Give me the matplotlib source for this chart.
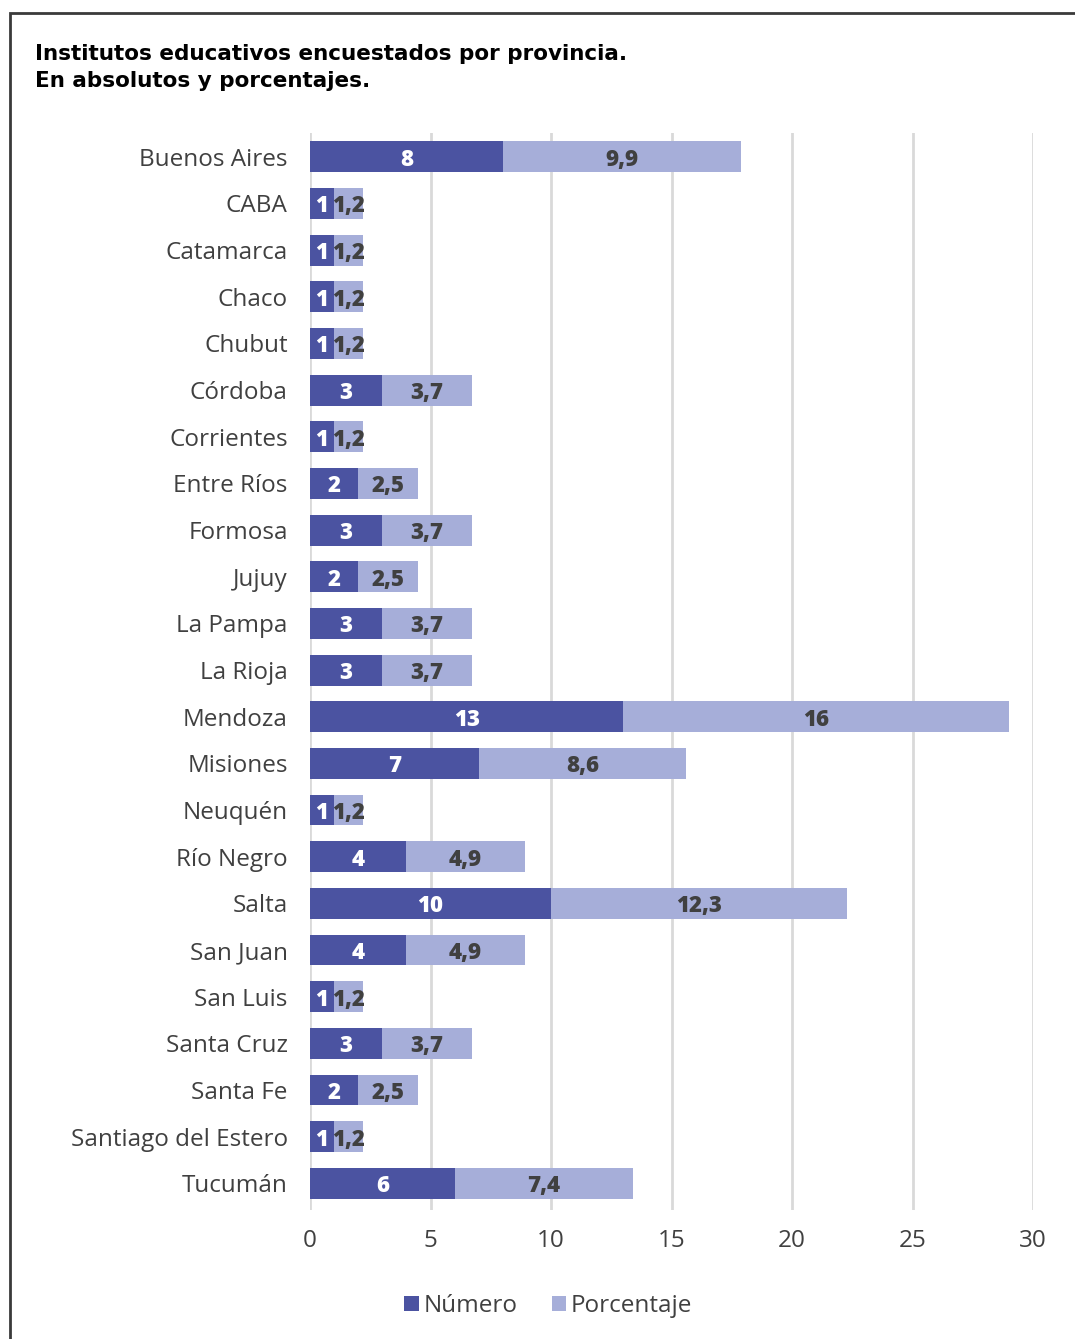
import matplotlib.pyplot as plt
from matplotlib.patches import Rectangle

# Provinces and values (absolute count and percentage)
provincias = ['Buenos Aires', 'CABA', 'Catamarca', 'Chaco', 'Chubut', 'Córdoba',
              'Corrientes', 'Entre Ríos', 'Formosa', 'Jujuy', 'La Pampa', 'La Rioja',
              'Mendoza', 'Misiones', 'Neuquén', 'Río Negro', 'Salta', 'San Juan',
              'San Luis', 'Santa Cruz', 'Santa Fe', 'Santiago del Estero', 'Tucumán']
numero = [8, 1, 1, 1, 1, 3, 1, 2, 3, 2, 3, 3, 13, 7, 1, 4, 10, 4, 1, 3, 2, 1, 6]
porcentaje = [9.9, 1.2, 1.2, 1.2, 1.2, 3.7, 1.2, 2.5, 3.7, 2.5, 3.7, 3.7, 16, 8.6,
              1.2, 4.9, 12.3, 4.9, 1.2, 3.7, 2.5, 1.2, 7.4]

OSCURO = '#4b53a1'
CLARO = '#a6aed9'
TEXTO = '#404040'

plt.rcParams['font.family'] = ['Open Sans', 'DejaVu Sans']

fig = plt.figure(figsize=(10.75, 13.39), dpi=100)
ax = fig.add_axes([0.2884, 0.096, 0.6726, 0.805])

y = list(range(len(provincias)))
ax.barh(y, numero, height=0.66, color=OSCURO, label='Número', zorder=3)
ax.barh(y, porcentaje, left=numero, height=0.66, color=CLARO, label='Porcentaje', zorder=3)


def fmt(v):
    s = f'{v:g}'
    return s.replace('.', ',')


for i, (n, p) in enumerate(zip(numero, porcentaje)):
    ax.text(n / 2, i, fmt(n), ha='center', va='center_baseline', color='white',
            fontsize=16, fontweight='heavy', zorder=4)
    ax.text(n + p / 2, i, fmt(p), ha='center', va='center_baseline', color=TEXTO,
            fontsize=16, fontweight='heavy', zorder=4)

ax.set_xlim(0, 30)
ax.set_ylim(22.58, -0.52)
ax.set_xticks(range(0, 31, 5))
ax.set_yticks(y)
ax.set_yticklabels(provincias)
ax.tick_params(axis='y', length=0, pad=16, labelsize=17.5, labelcolor=TEXTO)
ax.tick_params(axis='x', length=0, pad=13, labelsize=17.5, labelcolor=TEXTO)
for s in ax.spines.values():
    s.set_visible(False)
ax.grid(axis='x', color='#d9d9d9', linewidth=2, zorder=0)
ax.set_axisbelow(True)

fig.text(0.033, 0.9675, 'Institutos educativos encuestados por provincia.\nEn absolutos y porcentajes.',
         ha='left', va='top', fontsize=15.5, fontweight='bold', color='black',
         family='DejaVu Sans', linespacing=1.45)

leg = fig.legend(loc='center', bbox_to_anchor=(0.51, 0.0245), ncol=2, frameon=False,
                 fontsize=17.5, handlelength=0.6, handleheight=0.6, handletextpad=0.2,
                 columnspacing=1.4)
for t in leg.get_texts():
    t.set_color(TEXTO)

# Outer frame (left and top edges)
fig.add_artist(Rectangle((10 / 1075, -0.1), 2.0, 1.1 - 13 / 1339,
                         transform=fig.transFigure, fill=False,
                         edgecolor='#3a3a3a', linewidth=2))

fig.savefig('out.png', dpi=100)
